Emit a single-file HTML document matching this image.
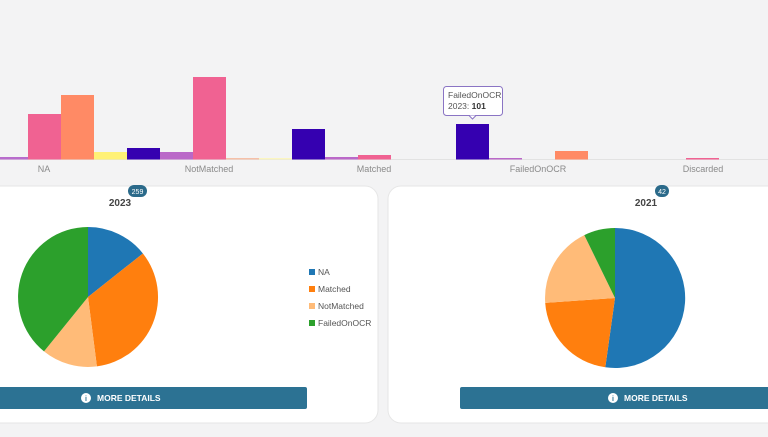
<!DOCTYPE html>
<html><head><meta charset="utf-8"><style>
body{margin:0;width:768px;height:432px;background:#f3f3f4;overflow:hidden;font-family:"Liberation Sans",sans-serif}
</style></head><body>
<svg width="768" height="432" xmlns="http://www.w3.org/2000/svg" font-family="Liberation Sans, sans-serif">
<rect width="768" height="432" fill="#f3f3f4"/>
<line x1="0" y1="159.5" x2="768" y2="159.5" stroke="#e2e2e2"/>
<rect x="0" y="157" width="28" height="2.5" fill="#b86ccc"/>
<rect x="28" y="114" width="33" height="45.5" fill="#f06292"/>
<rect x="61" y="95" width="33" height="64.5" fill="#ff8a65"/>
<rect x="94" y="152" width="33" height="7.5" fill="#fff176"/>
<rect x="127" y="148" width="33" height="11.5" fill="#3500b0"/>
<rect x="160" y="152" width="33" height="7.5" fill="#ba68c8"/>
<rect x="193" y="77" width="33" height="82.5" fill="#f06292"/>
<rect x="226" y="158" width="33" height="1.5" fill="#f5c0a8"/>
<rect x="259" y="158" width="33" height="1.5" fill="#fbf5c0"/>
<rect x="292" y="129" width="33" height="30.5" fill="#3500b0"/>
<rect x="325" y="157" width="33" height="2.5" fill="#ba68c8"/>
<rect x="358" y="155" width="33" height="4.5" fill="#f06292"/>
<rect x="456" y="124" width="33" height="35.5" fill="#3500b0"/>
<rect x="489" y="158" width="33" height="1.5" fill="#ba68c8"/>
<rect x="555" y="151" width="33" height="8.5" fill="#ff8a65"/>
<rect x="686" y="158" width="33" height="1.5" fill="#f06292"/>
<g font-size="9" fill="#8a8a8a" text-anchor="middle">
<text x="44" y="172">NA</text><text x="209" y="172">NotMatched</text><text x="374" y="172">Matched</text><text x="538" y="172">FailedOnOCR</text><text x="703" y="172">Discarded</text></g>
<rect x="443.5" y="86.5" width="59" height="29" rx="3" fill="#fff" stroke="#8a74c4"/>
<path d="M469 115.5 L472.5 119 L476 115.5" fill="#fff" stroke="#8a74c4"/>
<text x="448" y="98" font-size="8.5" fill="#555">FailedOnOCR</text>
<text x="448" y="109" font-size="8.5" fill="#555">2023: <tspan font-weight="bold" fill="#333">101</tspan></text>
<rect x="-20" y="186" width="398" height="237" rx="13" fill="#fff" stroke="#e6e6e6"/>
<rect x="388" y="186" width="400" height="237" rx="13" fill="#fff" stroke="#e6e6e6"/>
<text x="120" y="206" font-size="10" font-weight="bold" fill="#444" text-anchor="middle">2023</text>
<rect x="128" y="185" width="19" height="12" rx="6" fill="#2b6a8a"/>
<text x="137.5" y="194" font-size="7" fill="#fff" text-anchor="middle">259</text>
<text x="646" y="206" font-size="10" font-weight="bold" fill="#444" text-anchor="middle">2021</text>
<rect x="655" y="185" width="14" height="12" rx="6" fill="#2b6a8a"/>
<text x="662" y="194" font-size="7" fill="#fff" text-anchor="middle">42</text>
<path d="M88 297 L88 227 A70 70 0 0 1 142.9 253.5Z" fill="#1f77b4"/>
<path d="M88 297 L142.9 253.5 A70 70 0 0 1 96.9 366.4Z" fill="#ff7f0e"/>
<path d="M88 297 L96.9 366.4 A70 70 0 0 1 44 351.4Z" fill="#ffbb78"/>
<path d="M88 297 L44 351.4 A70 70 0 0 1 88 227Z" fill="#2ca02c"/>
<path d="M615 298 L615 228 A70 70 0 1 1 605.3 367.3Z" fill="#1f77b4"/>
<path d="M615 298 L605.3 367.3 A70 70 0 0 1 545.2 302.9Z" fill="#ff7f0e"/>
<path d="M615 298 L545.2 302.9 A70 70 0 0 1 584.3 235.1Z" fill="#ffbb78"/>
<path d="M615 298 L584.3 235.1 A70 70 0 0 1 615 228Z" fill="#2ca02c"/>
<g font-size="8.5" fill="#555">
<rect x="309" y="269" width="6" height="6" fill="#1f77b4"/><text x="318" y="275">NA</text>
<rect x="309" y="286" width="6" height="6" fill="#ff7f0e"/><text x="318" y="292">Matched</text>
<rect x="309" y="303" width="6" height="6" fill="#ffbb78"/><text x="318" y="309">NotMatched</text>
<rect x="309" y="320" width="6" height="6" fill="#2ca02c"/><text x="318" y="326">FailedOnOCR</text></g>
<rect x="-10" y="387" width="317" height="22" rx="2" fill="#2c7293"/>
<rect x="460" y="387" width="320" height="22" rx="2" fill="#2c7293"/>
<circle cx="86" cy="398" r="5" fill="#fff"/><text x="86" y="401" font-size="7" font-weight="bold" fill="#2c7293" text-anchor="middle">i</text>
<text x="97" y="401" font-size="8.5" font-weight="bold" fill="#fff">MORE DETAILS</text>
<circle cx="613" cy="398" r="5" fill="#fff"/><text x="613" y="401" font-size="7" font-weight="bold" fill="#2c7293" text-anchor="middle">i</text>
<text x="624" y="401" font-size="8.5" font-weight="bold" fill="#fff">MORE DETAILS</text>
</svg>
</body></html>
